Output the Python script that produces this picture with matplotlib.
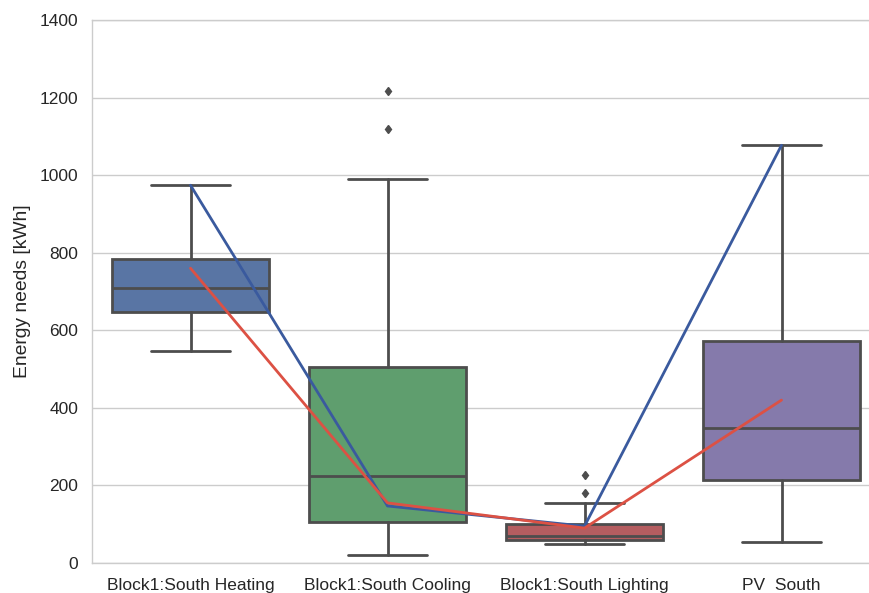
import matplotlib
matplotlib.use("Agg")
import matplotlib.pyplot as plt
import seaborn as sns

categories = ["Block1:South Heating", "Block1:South Cooling",
              "Block1:South Lighting", "PV  South"]
whisker_low = [546, 21, 49, 54]
q1 = [647, 106, 59, 214]
median = [709, 224, 70, 348]
q3 = [784, 505, 101, 573]
whisker_high = [974, 990, 154, 1077]
outliers = [[], [1217, 1119], [227, 181], []]

line_blue = [974, 147, 95, 1077]
line_red = [760, 155, 90, 420]

box_colors = ["#5975A4", "#5F9E6E", "#B55D60", "#857AAB"]

sns.set_style("whitegrid")
plt.rcParams["font.family"] = ["Liberation Sans", "DejaVu Sans"]

fig = plt.figure(figsize=(8.69, 5.93), dpi=100)
ax = fig.add_axes([92 / 869, 1 - 563 / 593, (880 - 92) / 869, (563 - 20) / 593])

stats = []
for i, name in enumerate(categories):
    stats.append(dict(label=name, whislo=whisker_low[i], q1=q1[i], med=median[i],
                      q3=q3[i], whishi=whisker_high[i], fliers=outliers[i]))

edge = "#4D4D4D"
lw = 2.0
positions = list(range(len(categories)))
bp = ax.bxp(stats, positions=positions, widths=0.8, patch_artist=True,
            boxprops=dict(edgecolor=edge, linewidth=lw),
            medianprops=dict(color=edge, linewidth=lw),
            whiskerprops=dict(color=edge, linewidth=lw),
            capprops=dict(color=edge, linewidth=lw),
            capwidths=0.4,
            flierprops=dict(marker="d", markerfacecolor=edge, markeredgecolor=edge,
                            markersize=4.5, linestyle="none"))
for patch, c in zip(bp["boxes"], box_colors):
    patch.set_facecolor(c)

ax.plot(positions, line_blue, color="#3A5A9E", linewidth=2.0, zorder=5)
ax.plot(positions, line_red, color="#DC5144", linewidth=2.0, zorder=6)

ax.set_xlim(-0.5, 3.5)
ax.set_ylim(0, 1400)
ax.set_xticks(positions)
ax.set_xticklabels(categories)
ax.set_ylabel("Energy needs [kWh]", fontsize=13.9, color="#262626", labelpad=6)
ax.tick_params(axis="both", labelsize=12.5, colors="#262626", length=0)
ax.tick_params(axis="x", pad=11)
ax.tick_params(axis="y", pad=10)
ax.grid(axis="x", visible=False)
ax.grid(axis="y", color="#CCCCCC", linewidth=1)
for s in ax.spines.values():
    s.set_color("#CCCCCC")
    s.set_linewidth(1)

fig.savefig("out.png", dpi=100)
